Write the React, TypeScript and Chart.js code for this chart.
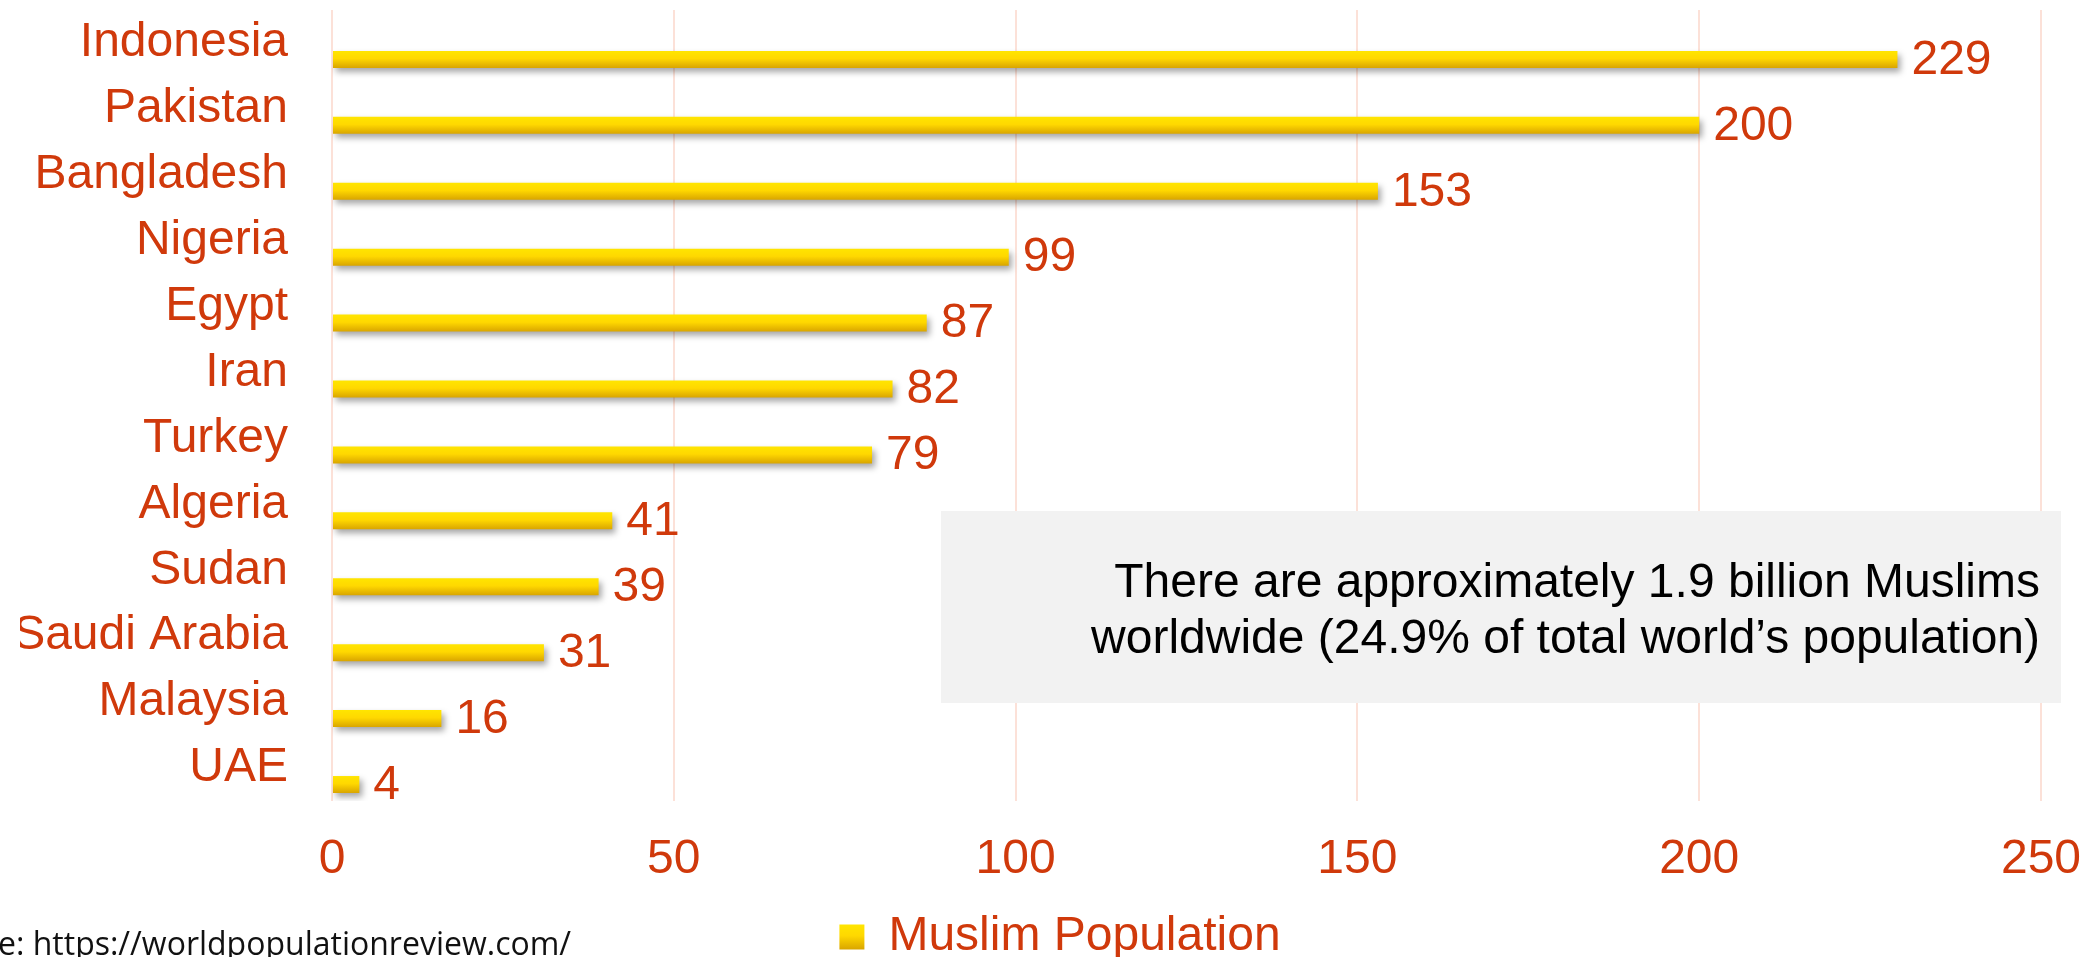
import React, { useEffect, useRef } from 'react';
import { Chart, registerables } from 'chart.js';

Chart.register(...registerables);

const countries = ['Indonesia', 'Pakistan', 'Bangladesh', 'Nigeria', 'Egypt', 'Iran', 'Turkey', 'Algeria', 'Sudan', 'Saudi Arabia', 'Malaysia', 'UAE'];
const muslimPopulation = [229, 200, 153, 99, 87, 82, 79, 41, 39, 31, 16, 4];
const spacerSeries = [null, null, null, null, null, null, null, null, null, null, null, null];
const xMin = 0;
const xMax = 250;
const xStep = 50;
const seriesName = 'Muslim Population';
const noteLines = ['There are approximately 1.9 billion Muslims', 'worldwide (24.9% of total world\u2019s population)'];
const sourceText = 'Source: https://worldpopulationreview.com/';
const sourceHidden = 'Sourc';

const RED = '#D0390B';
const GRID = '#FCE1D8';
const FONT = '"Liberation Sans", Arial, sans-serif';

function barGradient(ctx: CanvasRenderingContext2D, top: number, bottom: number) {
  const g = ctx.createLinearGradient(0, top, 0, bottom);
  g.addColorStop(0, '#FFE500');
  g.addColorStop(0.45, '#FFD800');
  g.addColorStop(1, '#D9A500');
  return g;
}

const shadowPlugin = {
  id: 'barShadow',
  beforeDatasetDraw(chart: any, args: any) {
    if (args.index !== 1) return;
    const ctx = chart.ctx;
    ctx.save();
    ctx.shadowColor = 'rgba(0,0,0,0.35)';
    ctx.shadowBlur = 6;
    ctx.shadowOffsetX = 3;
    ctx.shadowOffsetY = 4;
  },
  afterDatasetDraw(chart: any, args: any) {
    if (args.index !== 1) return;
    chart.ctx.restore();
  },
};

const notePlugin = {
  id: 'noteBox',
  beforeDatasetsDraw(chart: any) {
    const ctx = chart.ctx;
    ctx.save();
    ctx.fillStyle = '#F2F2F2';
    ctx.fillRect(941, 511, 1120, 192);
    ctx.fillStyle = '#000000';
    ctx.font = `48px ${FONT}`;
    ctx.textAlign = 'right';
    ctx.textBaseline = 'alphabetic';
    ctx.fillText(noteLines[0], 2040, 597);
    ctx.fillText(noteLines[1], 2040, 653);
    ctx.restore();
  },
};

const valueLabelPlugin = {
  id: 'valueLabels',
  afterDatasetsDraw(chart: any) {
    const ctx = chart.ctx;
    const meta = chart.getDatasetMeta(1);
    ctx.save();
    ctx.fillStyle = RED;
    ctx.font = `48px ${FONT}`;
    ctx.textAlign = 'left';
    ctx.textBaseline = 'middle';
    meta.data.forEach((el: any, i: number) => {
      ctx.fillText(String(muslimPopulation[i]), el.x + 14, el.y + 1);
    });
    ctx.restore();
  },
};

const sourcePlugin = {
  id: 'sourceText',
  beforeDraw(chart: any) {
    const lg = chart.legend;
    if (lg && lg.legendItems && lg.legendItems[0]) {
      const t = lg.top + 10 + (48 - 25) / 2;
      lg.legendItems[0].fillStyle = barGradient(chart.ctx, t, t + 25);
    }
  },
  afterDraw(chart: any) {
    const ctx = chart.ctx;
    ctx.save();
    ctx.font = `32px "Open Sans", "Noto Sans", sans-serif`;
    ctx.fillStyle = '#111111';
    ctx.textAlign = 'left';
    ctx.textBaseline = 'alphabetic';
    const hidden = ctx.measureText(sourceHidden).width;
    ctx.fillText(sourceText, -hidden - 2, 955);
    ctx.restore();
  },
};

export default function App() {
  const ref = useRef<HTMLCanvasElement | null>(null);

  useEffect(() => {
    document.body.style.margin = '0';
    const canvas = ref.current;
    if (!canvas) return;
    const chart = new Chart(canvas, {
      type: 'bar',
      data: {
        labels: countries,
        datasets: [
          {
            label: 'spacer',
            data: spacerSeries as any,
            backgroundColor: 'rgba(0,0,0,0)',
          },
          {
            label: seriesName,
            data: muslimPopulation,
            backgroundColor: (c: any) => {
              const ch = c.chart;
              const y = ch.scales && ch.scales.y;
              if (!ch.chartArea || !y || c.dataIndex === undefined) return '#FFD800';
              const band = (y.bottom - y.top) / countries.length;
              const center = y.getPixelForValue(c.dataIndex) + band / 4;
              const half = (band / 2) * 0.515 / 2;
              return barGradient(ch.ctx, center - half, center + half);
            },
            borderWidth: 0,
          },
        ],
      },
      options: {
        indexAxis: 'y',
        responsive: false,
        animation: false,
        events: [],
        layout: { padding: { left: 20, top: 10, right: 0, bottom: -14 } },
        datasets: {
          bar: { categoryPercentage: 1.0, barPercentage: 0.515 },
        },
        scales: {
          x: {
            min: xMin,
            max: xMax,
            ticks: {
              stepSize: xStep,
              color: RED,
              font: { size: 48, family: FONT },
              padding: 30,
              maxRotation: 0,
            },
            grid: { color: GRID, lineWidth: 2, drawTicks: false, tickLength: 0 },
            border: { display: false },
            afterFit: (s: any) => {
              s.height = 971 - 801 - 68;
              s.paddingLeft = 0;
              s.paddingRight = 59;
            },
          },
          y: {
            ticks: {
              color: RED,
              font: { size: 48, family: FONT },
              padding: 44,
              autoSkip: false,
            },
            grid: { display: false, drawTicks: false, tickLength: 0 },
            border: { display: false },
            afterFit: (s: any) => {
              s.width = 312;
              s.paddingTop = 0;
              s.paddingBottom = 0;
            },
          },
        },
        plugins: {
          legend: {
            position: 'bottom',
            labels: {
              color: RED,
              font: { size: 48, family: FONT },
              boxWidth: 25,
              boxHeight: 25,
              padding: 10,
              generateLabels: () => [
                {
                  text: seriesName,
                  fillStyle: '#FFD800',
                  strokeStyle: 'rgba(0,0,0,0)',
                  lineWidth: 0,
                  hidden: false,
                  datasetIndex: 1,
                  fontColor: RED,
                } as any,
              ],
            },
          },
          tooltip: { enabled: false },
        },
      } as any,
      plugins: [shadowPlugin, notePlugin, valueLabelPlugin, sourcePlugin],
    });
    return () => chart.destroy();
  }, []);

  return (
    <div style={{ width: 2100, height: 957, overflow: 'hidden', background: '#fff' }}>
      <canvas ref={ref} width={2100} height={957} style={{ display: 'block', width: 2100, height: 957 }} />
    </div>
  );
}
